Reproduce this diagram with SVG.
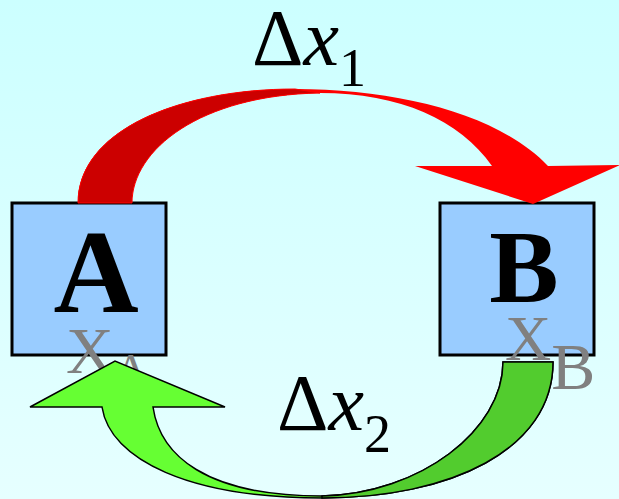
<svg xmlns="http://www.w3.org/2000/svg" width="619" height="499" viewBox="0 0 619 499">
<defs>
<linearGradient id="bg" x1="0" y1="0" x2="0" y2="1">
<stop offset="0" stop-color="#ccffff"/>
<stop offset="1" stop-color="#e6ffff"/>
</linearGradient>
<style>
.box{fill:#99ccff;stroke:#000;stroke-width:3}
.big{font-family:"Liberation Serif","Times New Roman",serif;font-weight:bold;fill:#000;text-anchor:middle}
.sub{font-family:"Liberation Serif","Times New Roman",serif;fill:#808080}
.lbl{font-family:"Liberation Serif","Times New Roman",serif;fill:#000}
.it{font-style:italic}
</style>
</defs>
<rect width="619" height="499" fill="url(#bg)"/>
<g id="nodeA">
<rect class="box" x="12" y="203" width="154" height="152"/>
<text class="big" x="96" y="312" font-size="118">A</text>
<text class="sub" x="66" y="373" font-size="66">X<tspan font-size="48" dy="14">A</tspan></text>
</g>
<g id="nodeB">
<rect class="box" x="440" y="203" width="154" height="152"/>
<text class="big" x="524" y="302" font-size="104">B</text>
</g>
<g id="connectors">
<g id="red-arrow">
<path d="M78,203 C78,130 180,89 295,89 C400,89 500,115 548,166 L620,165 L533,204 L415,166 L492,166 C460,120 400,93 320,93 C200,95 132,150 132,203 Z" fill="#ff0000"/>
<path d="M78,203 C78,130 180,89 295,89 L320,93 C200,95 132,150 132,203 Z" fill="#cc0000" stroke="#ff0000" stroke-width="1"/>
</g>
<g id="green-arrow">
<path d="M553,362 C553,450 450,498 322,498 C190,498 110,460 102,407 L30,407 L115,361 L225,407 L153,407 C160,455 205,496 322,496 C420,494 503,430 503,362 Z" fill="#66ff33" stroke="#000" stroke-width="1.5" stroke-linejoin="miter"/>
<path d="M553,362 C553,450 450,498 322,498 L322,496 C420,494 503,430 503,362 Z" fill="#52cc2e" stroke="#000" stroke-width="1.5"/>
</g>
</g>
<text class="sub" x="505" y="360" font-size="64">X<tspan font-size="66" dy="29">B</tspan></text>
<text class="lbl" x="252" y="65" font-size="80">Δ<tspan class="it">x</tspan><tspan font-size="54" dy="21">1</tspan></text>
<text class="lbl" x="277" y="430" font-size="80">Δ<tspan class="it">x</tspan><tspan font-size="54" dy="22">2</tspan></text>
</svg>
